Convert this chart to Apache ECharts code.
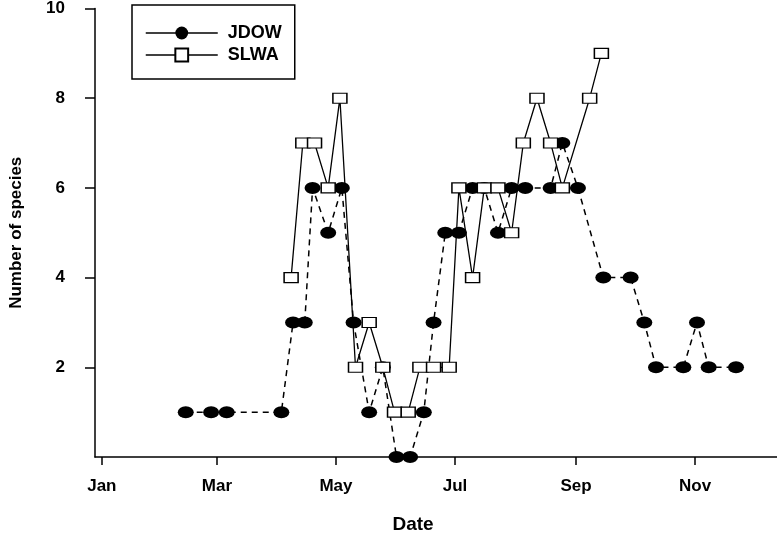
<!DOCTYPE html>
<html><head><meta charset="utf-8">
<script src="https://cdn.jsdelivr.net/npm/echarts@6/dist/echarts.min.js"></script>
<style>html,body{margin:0;padding:0;background:#fff}#c{width:777px;height:542px}</style>
</head><body><div id="c"></div>
<script>
// Month tick positions (day of year) and labels
const monthTickDays = [0, 59, 120, 181, 243, 304];
const monthTickLabels = ['Jan', 'Mar', 'May', 'Jul', 'Sep', 'Nov'];
const yTickValues = [2, 4, 6, 8, 10];

// JDOW: day of year and number of species
const jdowDays = [43, 56, 64, 92, 98, 104, 108, 116, 123, 129, 137, 144, 151, 158, 165, 170, 176, 183, 190, 196, 203, 210, 217, 230, 236, 244, 257, 271, 278, 284, 298, 305, 311, 325];
const jdowCounts = [1, 1, 1, 1, 3, 3, 6, 5, 6, 3, 1, 2, 0, 0, 1, 3, 5, 5, 6, 6, 5, 6, 6, 6, 7, 6, 4, 4, 3, 2, 2, 3, 2, 2];

// SLWA: day of year and number of species
const slwaDays = [97, 103, 109, 116, 122, 130, 137, 144, 150, 157, 163, 170, 178, 183, 190, 196, 203, 210, 216, 223, 230, 236, 250, 256];
const slwaCounts = [4, 7, 7, 6, 8, 2, 3, 2, 1, 1, 2, 2, 2, 6, 4, 6, 6, 5, 7, 8, 7, 6, 8, 9];

const pairs = (xs, ys) => xs.map((x, i) => [x, ys[i]]);
const FONT = "'Liberation Sans', Arial, sans-serif";

const chart = echarts.init(document.getElementById('c'), null, {renderer: 'canvas'});
chart.setOption({
  animation: false,
  backgroundColor: '#fff',
  grid: {left: 93, right: 0, top: 8, bottom: 85, containLabel: false},
  legend: {
    left: 132, top: 5,
    orient: 'vertical',
    padding: [19, 13, 15, 13],
    itemWidth: 72, itemHeight: 16, itemGap: 4,
    borderColor: '#000', borderWidth: 1.5,
    textStyle: {fontFamily: FONT, fontWeight: 'bold', fontSize: 18, color: '#000', padding: [0, 0, 0, 5]},
    data: [
      {name: 'JDOW', lineStyle: {type: 'solid', width: 1.5}},
      {name: 'SLWA', lineStyle: {type: 'solid', width: 1.3}}
    ]
  },
  xAxis: {
    type: 'value', min: -3.5, max: 346,
    name: 'Date', nameLocation: 'middle', nameGap: 58,
    nameTextStyle: {fontFamily: FONT, fontWeight: 'bold', fontSize: 19, color: '#000', padding: [0, 46, 0, 0]},
    splitLine: {show: false},
    axisLine: {onZero: false, lineStyle: {color: '#000', width: 1.5}},
    axisTick: {customValues: monthTickDays, length: 8, lineStyle: {color: '#000', width: 1.5}},
    axisLabel: {
      customValues: monthTickDays, margin: 21,
      fontFamily: FONT, fontWeight: 'bold', fontSize: 17, color: '#000',
      formatter: v => monthTickLabels[monthTickDays.indexOf(v)] || ''
    }
  },
  yAxis: {
    type: 'value', min: 0, max: 10, interval: 2,
    name: 'Number of species', nameLocation: 'middle', nameGap: 70,
    nameTextStyle: {fontFamily: FONT, fontWeight: 'bold', fontSize: 17, color: '#000'},
    splitLine: {show: false},
    axisLine: {show: true, onZero: false, lineStyle: {color: '#000', width: 1.5}},
    axisTick: {customValues: yTickValues, length: 10, lineStyle: {color: '#000', width: 1.5}},
    axisLabel: {
      customValues: yTickValues, margin: 30,
      fontFamily: FONT, fontWeight: 'bold', fontSize: 17, color: '#000'
    }
  },
  series: [
    {
      name: 'JDOW', type: 'line', z: 2,
      data: pairs(jdowDays, jdowCounts),
      symbol: 'circle', symbolSize: [16, 12],
      itemStyle: {color: '#000', borderColor: '#000', borderWidth: 0},
      lineStyle: {color: '#000', width: 1.5, type: [6, 5]},
      emphasis: {disabled: true}
    },
    {
      name: 'SLWA', type: 'line', z: 3,
      data: pairs(slwaDays, slwaCounts),
      symbol: 'rect', symbolSize: [14, 10],
      itemStyle: {color: '#fff', borderColor: '#000', borderWidth: 1.3},
      lineStyle: {color: '#000', width: 1.3, type: 'solid'},
      emphasis: {disabled: true}
    }
  ]
});
</script>
</body></html>
